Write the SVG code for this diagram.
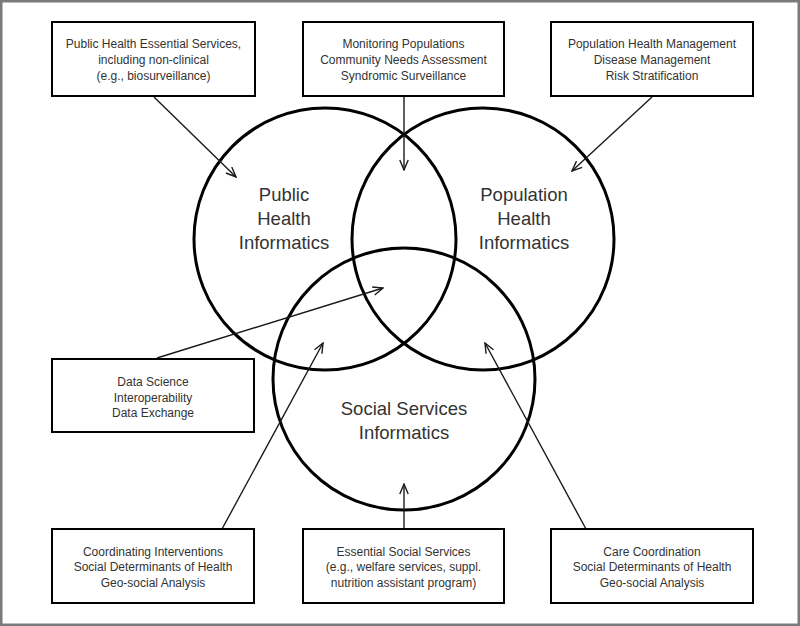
<svg xmlns="http://www.w3.org/2000/svg" width="800" height="626" viewBox="0 0 800 626">
  <style>
    .frame { fill: #ffffff; stroke: #7a7a7a; stroke-width: 2.5; }
    .box { fill: #ffffff; stroke: #000000; stroke-width: 2; }
    .circ { fill: none; stroke: #000000; stroke-width: 3; }
    .btxt { font-family: "Liberation Sans", Arial, sans-serif; font-size: 12px; fill: #333333; text-anchor: middle; }
    .ctxt { font-family: "Liberation Sans", Arial, sans-serif; font-size: 18.5px; fill: #333333; text-anchor: middle; }
    .conn { stroke: #1a1a1a; stroke-width: 1.4; fill: none; marker-end: url(#arrow); }
  </style>
  <defs>
    <marker id="arrow" viewBox="0 0 12 10" refX="11" refY="5" markerWidth="12" markerHeight="10" markerUnits="userSpaceOnUse" orient="auto">
      <path d="M1,0.8 L11,5 L1,9.2" fill="none" stroke="#1a1a1a" stroke-width="1.4"/>
    </marker>
  </defs>

  <rect class="frame" x="1.25" y="1.25" width="797.5" height="623.5"/>

  <g id="circle-public-health">
    <circle class="circ" cx="325" cy="239" r="131"/>
    <text class="ctxt" x="284" y="201">Public</text>
    <text class="ctxt" x="284" y="225">Health</text>
    <text class="ctxt" x="284" y="249">Informatics</text>
  </g>
  <g id="circle-population-health">
    <circle class="circ" cx="483" cy="239" r="131"/>
    <text class="ctxt" x="524" y="201">Population</text>
    <text class="ctxt" x="524" y="225">Health</text>
    <text class="ctxt" x="524" y="249">Informatics</text>
  </g>
  <g id="circle-social-services">
    <circle class="circ" cx="404" cy="379" r="131"/>
    <text class="ctxt" x="404" y="415">Social Services</text>
    <text class="ctxt" x="404" y="439">Informatics</text>
  </g>

  <g id="connectors">
    <line class="conn" x1="154" y1="97" x2="236" y2="177"/>
    <line class="conn" x1="404" y1="96" x2="404" y2="170"/>
    <line class="conn" x1="652" y1="97" x2="572" y2="171"/>
    <line class="conn" x1="157" y1="358" x2="383" y2="288"/>
    <line class="conn" x1="222" y1="529" x2="323" y2="343"/>
    <line class="conn" x1="404" y1="529" x2="404" y2="484"/>
    <line class="conn" x1="586" y1="529" x2="485" y2="343"/>
  </g>

  <g id="box-public-health-services">
    <rect class="box" x="52" y="22" width="203" height="74"/>
    <text class="btxt" x="153.5" y="48">Public Health Essential Services,</text>
    <text class="btxt" x="153.5" y="63.7">including non-clinical</text>
    <text class="btxt" x="153.5" y="79.5">(e.g., biosurveillance)</text>
  </g>
  <g id="box-monitoring">
    <rect class="box" x="303" y="22" width="201" height="74"/>
    <text class="btxt" x="403.5" y="48">Monitoring Populations</text>
    <text class="btxt" x="403.5" y="63.7">Community Needs Assessment</text>
    <text class="btxt" x="403.5" y="79.5">Syndromic Surveillance</text>
  </g>
  <g id="box-population-management">
    <rect class="box" x="551" y="22" width="202" height="74"/>
    <text class="btxt" x="652" y="48">Population Health Management</text>
    <text class="btxt" x="652" y="63.7">Disease Management</text>
    <text class="btxt" x="652" y="79.5">Risk Stratification</text>
  </g>
  <g id="box-data-science">
    <rect class="box" x="52" y="359" width="202" height="73"/>
    <text class="btxt" x="153" y="386">Data Science</text>
    <text class="btxt" x="153" y="401.5">Interoperability</text>
    <text class="btxt" x="153" y="417">Data Exchange</text>
  </g>
  <g id="box-coordinating">
    <rect class="box" x="52" y="529" width="202" height="74"/>
    <text class="btxt" x="153" y="555.5">Coordinating Interventions</text>
    <text class="btxt" x="153" y="571">Social Determinants of Health</text>
    <text class="btxt" x="153" y="586.5">Geo-social Analysis</text>
  </g>
  <g id="box-essential-social">
    <rect class="box" x="303" y="529" width="201" height="74"/>
    <text class="btxt" x="403.5" y="555.5">Essential Social Services</text>
    <text class="btxt" x="403.5" y="571">(e.g., welfare services, suppl.</text>
    <text class="btxt" x="403.5" y="586.5">nutrition assistant program)</text>
  </g>
  <g id="box-care-coordination">
    <rect class="box" x="551" y="529" width="202" height="74"/>
    <text class="btxt" x="652" y="555.5">Care Coordination</text>
    <text class="btxt" x="652" y="571">Social Determinants of Health</text>
    <text class="btxt" x="652" y="586.5">Geo-social Analysis</text>
  </g>
</svg>
